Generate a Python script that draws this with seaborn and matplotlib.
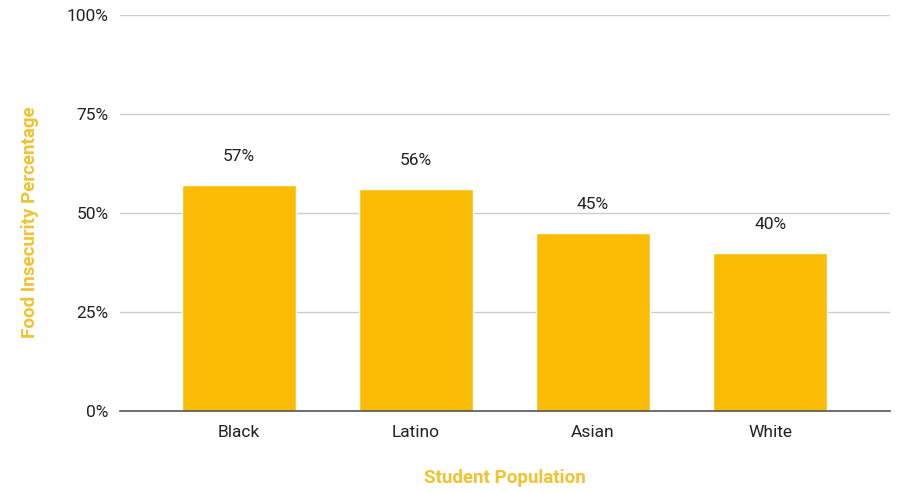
import matplotlib
matplotlib.use("Agg")
import matplotlib.pyplot as plt
import seaborn as sns
import pandas as pd

categories = ["Black", "Latino", "Asian", "White"]
values = [57, 56, 45, 40]
yticks = [0, 25, 50, 75, 100]
ytick_labels = ["0%", "25%", "50%", "75%", "100%"]

sns.set_theme(style="white")
plt.rcParams['font.family'] = ['Roboto', 'DejaVu Sans']

df = pd.DataFrame({"Student Population": categories, "Food Insecurity Percentage": values})

fig = plt.figure(figsize=(9, 4.93), dpi=100)
ax = fig.add_axes([0.1333, 0.1663, 0.989 - 0.1333, 0.9696 - 0.1663])

bar_color = "#FABC05"
sns.barplot(data=df, x="Student Population", y="Food Insecurity Percentage",
            color=bar_color, saturation=1, width=0.644, ax=ax, zorder=3)

ax.set_xlim(-0.672, 3.678)
ax.set_ylim(0, 100)
ax.set_yticks(yticks)
ax.set_yticklabels(ytick_labels, fontsize=12.5, color="#222222")
ax.tick_params(axis="x", labelsize=12.5, colors="#222222", length=0, pad=10)
ax.tick_params(axis="y", length=0, pad=8)

ax.yaxis.grid(True, color="#cccccc", linewidth=1, zorder=0)
for s in ["top", "right", "left"]:
    ax.spines[s].set_visible(False)
ax.spines["bottom"].set_color("#555555")
ax.spines["bottom"].set_linewidth(1.2)
ax.spines["bottom"].set_zorder(4)

for i, v in enumerate(values):
    ax.annotate(f"{v}%", xy=(i, v), xytext=(0, 15), textcoords="offset points",
                ha="center", va="bottom", fontsize=12.5, color="#222222")

label_color = "#F2C230"
ax.set_xlabel("Student Population", fontsize=13.5, fontweight="bold", color=label_color)
ax.set_ylabel("Food Insecurity Percentage", fontsize=13.5, fontweight="bold", color=label_color)
ax.xaxis.set_label_coords(0.5, -0.169)
ax.yaxis.set_label_coords(-0.117, 0.477)
ax.xaxis.label.set_va("center")
ax.yaxis.label.set_va("center")

fig.savefig("out.png", dpi=100)
